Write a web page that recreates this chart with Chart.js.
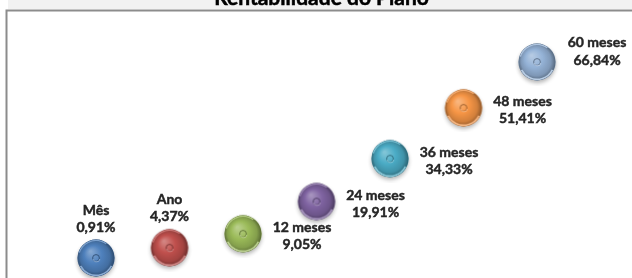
<!DOCTYPE html>
<html>
<head>
<meta charset="utf-8">
<script src="https://cdn.jsdelivr.net/npm/chart.js@4/dist/chart.umd.min.js"></script>
<style>
  html, body { margin: 0; padding: 0; background: #ffffff; }
  #wrap { position: relative; width: 632px; height: 278px; overflow: hidden; }
  canvas { display: block; }
</style>
</head>
<body>
<div id="wrap"><canvas id="c" width="632" height="278"></canvas></div>
<script>
// ---- data ----
const chartTitle = 'Rentabilidade do Plano';
const categories = ['Mês', 'Ano', '12 meses', '24 meses', '36 meses', '48 meses', '60 meses'];
const returns = [0.91, 4.37, 9.05, 19.91, 34.33, 51.41, 66.84];
const valueLabels = ['0,91%', '4,37%', '9,05%', '19,91%', '34,33%', '51,41%', '66,84%'];
const bubbleColors = ['#4f81bd', '#c0504d', '#9bbb59', '#8064a2', '#4bacc6', '#f79646', '#95b3d7'];

// ---- label placement (style, not data) ----
const labelPlacement = ['top', 'top', 'right', 'right', 'right', 'right', 'rightHigh'];

function hexToRgb(h) {
  h = h.replace('#', '');
  return [parseInt(h.substr(0, 2), 16), parseInt(h.substr(2, 2), 16), parseInt(h.substr(4, 2), 16)];
}
function mix(hex, other, t) {
  const a = hexToRgb(hex), b = hexToRgb(other);
  const c = a.map((v, i) => Math.round(v + (b[i] - v) * t));
  return 'rgb(' + c.join(',') + ')';
}

function makeBubble(hex) {
  const r = 18.5, size = 48;
  const cv = document.createElement('canvas');
  cv.width = size; cv.height = size;
  const g = cv.getContext('2d');
  const cx = size / 2, cy = size / 2;
  // drop shadow
  g.save();
  g.shadowColor = 'rgba(0,0,0,0.30)';
  g.shadowBlur = 4;
  g.shadowOffsetY = 2.5;
  g.beginPath(); g.arc(cx, cy, r, 0, Math.PI * 2);
  g.fillStyle = hex; g.fill();
  g.restore();
  // body
  const grad = g.createRadialGradient(cx - r * 0.3, cy - r * 0.35, r * 0.05, cx, cy, r);
  grad.addColorStop(0, mix(hex, '#ffffff', 0.3));
  grad.addColorStop(0.45, hex);
  grad.addColorStop(0.8, mix(hex, '#000000', 0.15));
  grad.addColorStop(1, mix(hex, '#000000', 0.42));
  g.beginPath(); g.arc(cx, cy, r, 0, Math.PI * 2);
  g.fillStyle = grad; g.fill();
  // bevel: lighter lower rim
  g.save();
  g.beginPath(); g.arc(cx, cy, r, 0, Math.PI * 2); g.clip();
  g.beginPath(); g.arc(cx, cy, r - 1.2, 0.15 * Math.PI, 0.85 * Math.PI);
  g.strokeStyle = mix(hex, '#ffffff', 0.35); g.lineWidth = 1.6; g.stroke();
  g.beginPath(); g.arc(cx, cy, r - 1, 1.1 * Math.PI, 1.7 * Math.PI);
  g.strokeStyle = mix(hex, '#ffffff', 0.25); g.lineWidth = 1.2; g.stroke();
  g.restore();
  // centre dimple
  g.beginPath(); g.arc(cx, cy, 3.4, 0, Math.PI * 2);
  g.strokeStyle = mix(hex, '#000000', 0.35); g.lineWidth = 1; g.stroke();
  g.beginPath(); g.arc(cx + 0.5, cy + 0.5, 3.4, 0.05 * Math.PI, 0.95 * Math.PI);
  g.strokeStyle = mix(hex, '#ffffff', 0.35); g.lineWidth = 0.9; g.stroke();
  return cv;
}

function boldText(ctx, text, x, y) {
  ctx.fillText(text, x, y);
  ctx.strokeText(text, x, y);
}

const frameAndTitle = {
  id: 'frameAndTitle',
  beforeDraw(chart) {
    const ctx = chart.ctx, a = chart.chartArea;
    ctx.save();
    ctx.fillStyle = '#f2f2f2';
    ctx.fillRect(a.left + 1, 0, chart.width - a.left - 1, a.top - 2);
    ctx.fillStyle = '#000000';
    ctx.strokeStyle = '#000000';
    ctx.lineWidth = 0.5;
    ctx.font = 'bold 21px Lato, "Open Sans", sans-serif';
    ctx.textAlign = 'center';
    ctx.textBaseline = 'alphabetic';
    boldText(ctx, chartTitle, (a.left + a.right) / 2 + 2, 5);
    ctx.strokeStyle = '#8c8c8c';
    ctx.lineWidth = 2;
    ctx.beginPath();
    ctx.moveTo(a.left - 0.5, chart.height);
    ctx.lineTo(a.left - 0.5, a.top - 0.5);
    ctx.lineTo(chart.width, a.top - 0.5);
    ctx.stroke();
    ctx.restore();
  },
  afterDatasetsDraw(chart) {
    const ctx = chart.ctx;
    const meta = chart.getDatasetMeta(0);
    ctx.save();
    ctx.font = 'bold 14px Lato, "Open Sans", sans-serif';
    ctx.fillStyle = '#262626';
    ctx.strokeStyle = '#262626';
    ctx.lineWidth = 0.45;
    ctx.textAlign = 'center';
    ctx.textBaseline = 'middle';
    meta.data.forEach((el, i) => {
      const p = labelPlacement[i];
      let x = el.x, y1, y2;
      if (p === 'top') { y1 = el.y - 48; y2 = el.y - 31; }
      else if (p === 'right') { x = el.x + 59; y1 = el.y - 6; y2 = el.y + 11; }
      else { x = el.x + 60; y1 = el.y - 20; y2 = el.y - 2; }
      boldText(ctx, categories[i], x, y1);
      boldText(ctx, valueLabels[i], x, y2);
    });
    ctx.restore();
  }
};

const points = returns.map((v, i) => ({ x: i + 1, y: v }));

new Chart(document.getElementById('c'), {
  type: 'scatter',
  data: {
    datasets: [{
      label: chartTitle,
      data: points,
      pointStyle: bubbleColors.map(makeBubble),
      pointRadius: 18,
      backgroundColor: bubbleColors,
      borderWidth: 0
    }]
  },
  options: {
    responsive: false,
    animation: false,
    events: [],
    layout: { autoPadding: false, padding: { left: 7, top: 11, right: 0, bottom: 0 } },
    plugins: { legend: { display: false }, title: { display: false }, tooltip: { enabled: false } },
    scales: {
      x: { type: 'linear', display: false, min: -0.211, max: 8.292 },
      y: { type: 'linear', display: false, min: -5.82, max: 83.99 }
    }
  },
  plugins: [frameAndTitle]
});
</script>
</body>
</html>
